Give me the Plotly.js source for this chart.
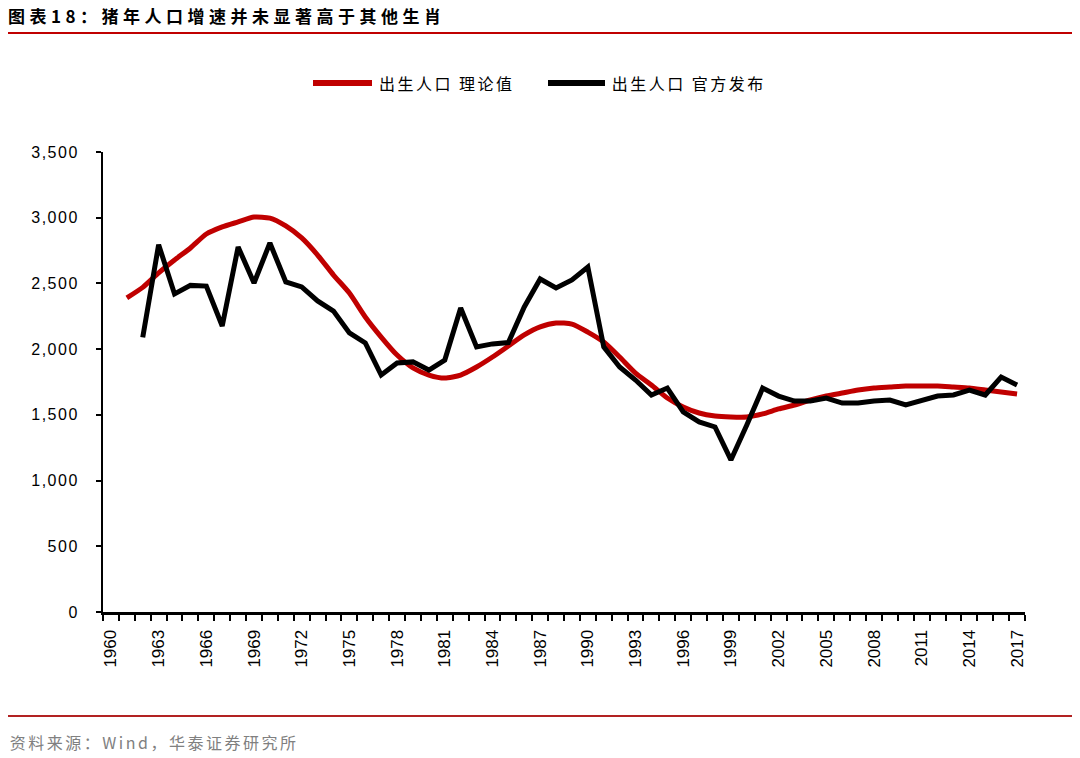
<!DOCTYPE html>
<html>
<head>
<meta charset="utf-8">
<script src="https://cdn.plot.ly/plotly-3.0.1.min.js"></script>
<style>
  html, body { margin: 0; padding: 0; background: #fff; }
  #chart { width: 1080px; height: 758px; }
  #chart .gtitle { letter-spacing: 4.5px; }
  #chart .annotation-text { letter-spacing: 2.5px; }
  #chart .ytick text { letter-spacing: 1.5px; }
</style>
</head>
<body>
<div id="chart"></div>
<script>
// ---- Data, births in 10k persons ----
const years = [1960,1961,1962,1963,1964,1965,1966,1967,1968,1969,
               1970,1971,1972,1973,1974,1975,1976,1977,1978,1979,
               1980,1981,1982,1983,1984,1985,1986,1987,1988,1989,
               1990,1991,1992,1993,1994,1995,1996,1997,1998,1999,
               2000,2001,2002,2003,2004,2005,2006,2007,2008,2009,
               2010,2011,2012,2013,2014,2015,2016,2017];

const theoretical = [null,2390,2470,2580,2678,2770,2876,2930,2968,3005,
                     2997,2937,2846,2716,2564,2427,2245,2092,1955,1857,
                     1803,1780,1803,1864,1940,2024,2108,2169,2199,2191,
                     2130,2054,1940,1818,1727,1628,1560,1514,1491,1484,
                     1484,1507,1545,1575,1613,1643,1666,1689,1704,1712,
                     1720,1720,1720,1712,1704,1689,1674,1659];

const official = [null,null,2090,2795,2420,2485,2480,2176,2778,2503,
                  2808,2511,2473,2367,2290,2123,2047,1803,1895,1903,
                  1841,1917,2313,2017,2040,2050,2321,2534,2465,2526,
                  2625,2017,1864,1765,1651,1704,1522,1446,1408,1157,
                  1423,1704,1643,1605,1605,1628,1590,1590,1605,1613,
                  1575,1613,1643,1651,1689,1651,1788,1727];

const xTickYears = [1960,1963,1966,1969,1972,1975,1978,1981,1984,1987,
                    1990,1993,1996,1999,2002,2005,2008,2011,2014,2017];

const seriesNames = ['出生人口 理论值', '出生人口 官方发布'];
const titleText = '图表18：猪年人口增速并未显著高于其他生肖';
const sourceText = '资料来源：Wind，华泰证券研究所';

// ---- Plot geometry (pixels) ----
const W = 1080, H = 758;
const L = 103, R = 1025, T = 152, B = 612;
const pw = R - L, ph = B - T;
const px = x => (x - L) / pw;
const py = y => (B - y) / ph;
const LS = 2.5; // letter spacing applied to annotation texts (see CSS)
// centred annotation text grows by n*LS, so shift right by half of it
const lsShift = s => s.length * LS / 2;

const RED = '#C00000';
const BLACK = '#000000';
const cjk = '"Noto Sans CJK SC", "Noto Sans", sans-serif';
const arial = '"Liberation Sans", Arial, sans-serif';

const traces = [
  {
    x: years, y: theoretical, name: seriesNames[0], type: 'scatter', mode: 'lines',
    line: { color: RED, width: 5, shape: 'spline', smoothing: 0.6 },
    connectgaps: false, showlegend: false
  },
  {
    x: years, y: official, name: seriesNames[1], type: 'scatter', mode: 'lines',
    line: { color: BLACK, width: 5 },
    connectgaps: false, showlegend: false
  }
];

// legend built from the series names / colours
const legendItems = [
  { name: seriesNames[0], color: RED,   x0: 313, x1: 372, tx: 377 },
  { name: seriesNames[1], color: BLACK, x0: 548, x1: 605, tx: 610 }
];
const legendY = 83;

const shapes = [
  { type: 'line', xref: 'paper', yref: 'paper', x0: px(8), x1: px(1072), y0: py(33), y1: py(33),
    line: { color: RED, width: 2 } },
  { type: 'line', xref: 'paper', yref: 'paper', x0: px(8), x1: px(1072), y0: py(716), y1: py(716),
    line: { color: '#B22222', width: 2 } }
];
const annotations = [
  { text: sourceText, xref: 'paper', yref: 'paper', x: px(8 + lsShift(sourceText)), y: py(742),
    xanchor: 'left', yanchor: 'middle', showarrow: false,
    font: { family: cjk, size: 16, color: '#808080' } }
];
legendItems.forEach(it => {
  shapes.push({ type: 'line', xref: 'paper', yref: 'paper',
    x0: px(it.x0), x1: px(it.x1), y0: py(legendY), y1: py(legendY),
    line: { color: it.color, width: 6 } });
  annotations.push({ text: it.name, xref: 'paper', yref: 'paper', x: px(it.tx + lsShift(it.name)), y: py(legendY),
    xanchor: 'left', yanchor: 'middle', showarrow: false,
    font: { family: cjk, size: 16, color: '#000' } });
});

const layout = {
  width: W, height: H,
  paper_bgcolor: '#ffffff', plot_bgcolor: '#ffffff',
  margin: { l: L, r: W - R, t: T, b: H - B, pad: 0 },
  title: {
    text: '<b>' + titleText + '</b>',
    font: { family: cjk, size: 17, color: '#000' },
    x: 8 / W, xanchor: 'left', xref: 'container',
    y: 1 - 17 / H, yanchor: 'middle', yref: 'container'
  },
  showlegend: false,
  xaxis: {
    type: 'linear', range: [1959.5, 2017.5], fixedrange: true,
    tickmode: 'array', tickvals: xTickYears, ticktext: xTickYears.map(String),
    ticks: '', tickangle: -90, ticklabelstandoff: 8,
    tickfont: { family: arial, size: 17, color: '#000' },
    showgrid: false, zeroline: false,
    showline: true, linecolor: '#000', linewidth: 3,
    minor: { tick0: 1959.5, dtick: 1, ticks: 'outside', ticklen: 6, tickwidth: 2, tickcolor: '#000', showgrid: false }
  },
  yaxis: {
    range: [0, 3500], dtick: 500, tick0: 0, tickformat: ',d', fixedrange: true,
    ticks: 'outside', ticklen: 5, tickwidth: 2, tickcolor: '#000', ticklabelstandoff: 14,
    tickfont: { family: arial, size: 16, color: '#000' },
    showgrid: false, zeroline: false,
    showline: true, linecolor: '#000', linewidth: 2
  },
  shapes: shapes,
  annotations: annotations
};

Plotly.newPlot('chart', traces, layout, { staticPlot: true, displayModeBar: false });
</script>
</body>
</html>
